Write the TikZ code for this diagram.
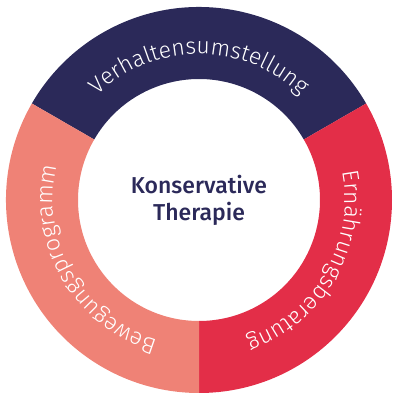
\documentclass[tikz,border=0pt]{standalone}
\usepackage{fontspec}
\setmainfont{Fira Sans}[UprightFont=* Light, BoldFont=* Medium]
\usetikzlibrary{positioning,decorations.text}
\definecolor{ringNavy}{RGB}{43,41,89}
\definecolor{ringRed}{RGB}{227,46,72}
\definecolor{ringSalmon}{RGB}{239,130,118}

\begin{document}
\begin{tikzpicture}[
    x=1pt, y=1pt,
    seg/.style={fill=#1, draw=none},
    ring text/.style={decorate, decoration={text along path, text align=center, text color=white, text={#1}}},
    core note/.style={font=\fontsize{23}{27}\selectfont\bfseries, text=ringNavy, align=center}
]
  \useasboundingbox (0,0) rectangle (400,400);
  \begin{scope}[shift={(199,200)}]
    % three segments of the ring
    \foreach \a/\b/\c in {30/150/ringNavy, -90/30/ringRed, 150/270/ringSalmon}
      \fill[seg=\c] (\a:193) arc[start angle=\a, end angle=\b, radius=193]
        -- (\b:121) arc[start angle=\b, end angle=\a, radius=121] -- cycle;
    % labels along the ring, clockwise
    \path[ring text={|\fontsize{23}{23}\selectfont|Verhaltensumstellung}]
      (150:146) arc[start angle=150, end angle=30, radius=146];
    \path[ring text={|\fontsize{23}{23}\selectfont|Ernährungsberatung}]
      (30:146) arc[start angle=30, end angle=-90, radius=146];
    \path[ring text={|\fontsize{23}{23}\selectfont|Bewegungsprogramm}]
      (270:146) arc[start angle=270, end angle=150, radius=146];
    \node[core note] (core) at (0,0) {Konservative\\Therapie};
  \end{scope}
\end{tikzpicture}
\end{document}
